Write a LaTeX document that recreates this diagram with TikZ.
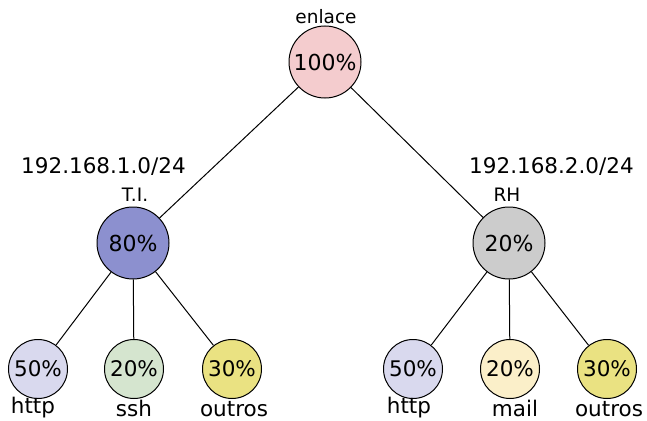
\documentclass[tikz,border=0pt]{standalone}
\usepackage{fontspec}
\setmainfont{DejaVu Sans}
\definecolor{cRoot}{HTML}{F4CCCE}
\definecolor{cTI}{HTML}{8C90CF}
\definecolor{cRH}{HTML}{CCCCCC}
\definecolor{cHttp}{HTML}{D9D9EE}
\definecolor{cSsh}{HTML}{D5E5CF}
\definecolor{cOut}{HTML}{EAE282}
\definecolor{cMail}{HTML}{FBEFC9}
\tikzset{
  big/.style={circle, draw=black, line width=1pt, minimum size=72pt, inner sep=0pt, font=\fontsize{22}{26}\selectfont},
  leaf/.style={circle, draw=black, line width=1pt, minimum size=59pt, inner sep=0pt, font=\fontsize{21.5}{25}\selectfont},
  lbl/.style={anchor=base, inner sep=0pt, font=\fontsize{21.5}{25}\selectfont},
  slbl/.style={anchor=base, inner sep=0pt, font=\fontsize{18.5}{22}\selectfont},
  edge/.style={draw=black, line width=1pt}
}
\begin{document}
\begin{tikzpicture}[x=1pt,y=-1pt]
\useasboundingbox (0,0) rectangle (647,420);
\node[big, fill=cRoot] (root) at (325,62) {100\%};
\node[big, fill=cTI] (ti) at (133,243) {80\%};
\node[big, fill=cRH] (rh) at (509,243) {20\%};
\node[leaf, fill=cHttp] (l1) at (38,369) {50\%};
\node[leaf, fill=cSsh] (l2) at (134,369) {20\%};
\node[leaf, fill=cOut] (l3) at (232,369) {30\%};
\node[leaf, fill=cHttp] (r1) at (413,369) {50\%};
\node[leaf, fill=cMail] (r2) at (510,369) {20\%};
\node[leaf, fill=cOut] (r3) at (607,369) {30\%};
\node[slbl] (tenlace) at (326,24) {enlace};
\node[slbl] (tti) at (135,201) {T.I.};
\node[slbl] (trh) at (507,201) {RH};
\node[lbl] (net1) at (103.5,173) {192.168.1.0/24};
\node[lbl] (net2) at (551.5,173) {192.168.2.0/24};
\node[lbl] (t1) at (33,413) {http};
\node[lbl] (t2) at (134,416) {ssh};
\node[lbl] (t3) at (234,416) {outros};
\node[lbl] (t4) at (409,413) {http};
\node[lbl] (t5) at (515,416) {mail};
\node[lbl] (t6) at (609,416) {outros};
\draw[edge] (root) -- (ti);
\draw[edge] (root) -- (rh);
\draw[edge] (ti) -- (l1);
\draw[edge] (ti) -- (l2);
\draw[edge] (ti) -- (l3);
\draw[edge] (rh) -- (r1);
\draw[edge] (rh) -- (r2);
\draw[edge] (rh) -- (r3);
\end{tikzpicture}
\end{document}
